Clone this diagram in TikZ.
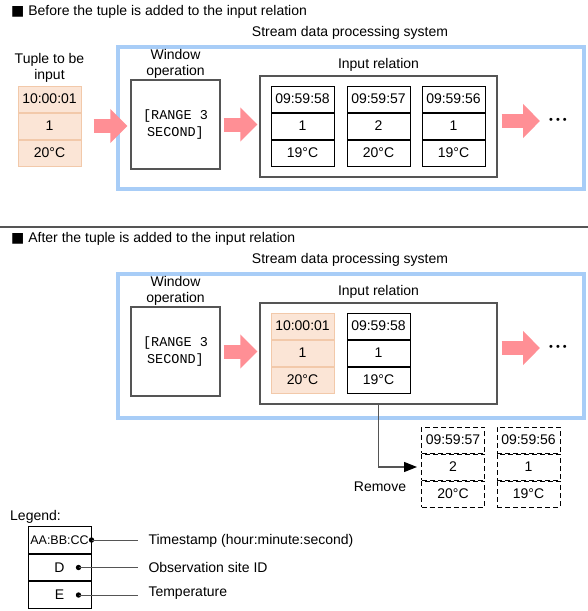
\documentclass[tikz,border=0pt]{standalone}
\usepackage{fontspec}
\setmainfont{Liberation Sans}
\setmonofont{Liberation Mono}
\newfontfamily\symfont{DejaVu Sans}
\usetikzlibrary{arrows.meta, positioning, calc}

\definecolor{tuplefill}{HTML}{FBE5D6}
\definecolor{tupleedge}{HTML}{F2C9AA}
\definecolor{arrowpink}{HTML}{FF8F95}
\definecolor{sysblue}{HTML}{A8CDF7}
\definecolor{edgegray}{HTML}{555555}

\begin{document}
\begin{tikzpicture}[
    x=1pt, y=-1pt,
    font=\fontsize{14}{16}\selectfont,
    cell/.style={rectangle, draw=black, line width=1pt, minimum width=63pt, minimum height=26pt, inner sep=0pt},
    newcell/.style={cell, fill=tuplefill, draw=tupleedge},
    gonecell/.style={cell, dash pattern=on 5pt off 3pt},
    sysbox/.style={rectangle, draw=sysblue, line width=3.5pt, minimum width=466pt, minimum height=142pt, inner sep=0pt},
    opbox/.style={rectangle, draw=edgegray, line width=1.2pt, inner sep=0pt},
    fatarrow/.style={draw=arrowpink, line width=14pt, -{Triangle[width=33pt, length=17pt]}},
    boxlbl/.style={align=center, inner sep=0pt},
    legline/.style={draw=edgegray, line width=1pt}
]
\useasboundingbox (0,0) rectangle (588,611);

% tuple: name, x, y of top cell, timestamp, site, temperature, cell style
\newcommand{\tuplecol}[7]{%
  \node[#7] (#1a) at (#2, #3) {#4};
  \node[#7, below=0pt of #1a] (#1b) {#5};
  \node[#7, below=0pt of #1b] (#1c) {#6};
}

% Panel 1: before the tuple is added
\node[anchor=west, inner sep=0pt] (head1) at (11, 12) {{\symfont ■} Before the tuple is added to the input relation};
\node[boxlbl] (syslbl1) at (350, 33) {Stream data processing system};
\node[sysbox] (sys1) at (351, 118) {};

\node[boxlbl] (inlbl) at (49.5, 68) {Tuple to be\\input};
\tuplecol{in}{49.5}{99}{10:00:01}{1}{20°C}{newcell}

\node[boxlbl] (winlbl1) at (175.5, 64) {Window\\operation};
\node[opbox, minimum width=89pt, minimum height=89pt, align=center, font=\ttfamily\fontsize{13.5}{17}\selectfont] (win1) at (175.5, 124.5) {[RANGE 3\\SECOND]};

\node[boxlbl] (rellbl1) at (378.5, 65) {Input relation};
\node[opbox, minimum width=237pt, minimum height=101pt] (rel1) at (378.5, 126.5) {};
\tuplecol{ta}{302.5}{99}{09:59:58}{1}{19°C}{cell}
\tuplecol{tb}{378.5}{99}{09:59:57}{2}{20°C}{cell}
\tuplecol{tc}{453.5}{99}{09:59:56}{1}{19°C}{cell}

\node[inner sep=0pt] (dots1) at (558, 121) {\fontsize{11}{11}\selectfont\textbullet\hspace{3pt}\textbullet\hspace{3pt}\textbullet};

\draw[fatarrow, shorten <=12pt, shorten >=3pt] (inb.east) -- (inb.east -| win1.west);
\draw[fatarrow, shorten <=3pt, shorten >=2pt] (win1.east) -- (win1.east -| rel1.west);
\draw[fatarrow, shorten <=4pt, shorten >=9pt] (rel1.east |- dots1) -- (dots1.west);

% separator
\draw[edgegray, line width=1.2pt] (0, 227) -- (588, 227);

% Panel 2: after the tuple is added
\begin{scope}[yshift=-227pt]
\node[anchor=west, inner sep=0pt] (head2) at (11, 12) {{\symfont ■} After the tuple is added to the input relation};
\node[boxlbl] (syslbl2) at (350, 33) {Stream data processing system};
\node[sysbox, minimum height=144pt] (sys2) at (351, 119) {};

\node[boxlbl] (winlbl2) at (175.5, 64) {Window\\operation};
\node[opbox, minimum width=89pt, minimum height=89pt, align=center, font=\ttfamily\fontsize{13.5}{17}\selectfont] (win2) at (175.5, 124.5) {[RANGE 3\\SECOND]};

\node[boxlbl] (rellbl2) at (378.5, 65) {Input relation};
\node[opbox, minimum width=237pt, minimum height=101pt] (rel2) at (378.5, 126.5) {};
\tuplecol{na}{302.5}{99}{10:00:01}{1}{20°C}{newcell}
\tuplecol{ua}{378.5}{99}{09:59:58}{1}{19°C}{cell}

\node[inner sep=0pt] (dots2) at (558, 121) {\fontsize{11}{11}\selectfont\textbullet\hspace{3pt}\textbullet\hspace{3pt}\textbullet};

\draw[fatarrow, shorten <=3pt, shorten >=2pt] (win2.east) -- (win2.east -| rel2.west);
\draw[fatarrow, shorten <=4pt, shorten >=9pt] (rel2.east |- dots2) -- (dots2.west);

% removed tuples
\tuplecol{ga}{453}{213}{09:59:57}{2}{20°C}{gonecell}
\tuplecol{gb}{528.5}{213}{09:59:56}{1}{19°C}{gonecell}
\draw[edgegray, line width=1.2pt, -{Triangle[length=13pt, width=10pt, color=black]}, shorten >=4pt] (rel2.south) |- (gab.west);
\node (removelbl) at (380, 260) {Remove};
\end{scope}

% Legend
\node[anchor=west, inner sep=0pt] (leglbl) at (10, 517) {Legend:};
\node[cell, minimum height=26.5pt, font=\fontsize{12.5}{14}\selectfont] (lega) at (59.5, 540) {AA:BB:CC};
\node[cell, minimum height=26.5pt, below=0pt of lega] (legb) {D\hspace{10pt}};
\node[cell, minimum height=26.5pt, below=0pt of legb] (legc) {E\hspace{10pt}};
\fill (lega.east) circle (2.7pt) coordinate (dota);
\fill ($(legb.east)+(-13,0)$) circle (2.7pt) coordinate (dotb);
\fill ($(legc.east)+(-13,0)$) circle (2.7pt) coordinate (dotc);
\node[anchor=west] (legta) at (145, 541) {Timestamp (hour:minute:second)};
\node[anchor=west] (legtb) at (145, 567) {Observation site ID};
\node[anchor=west] (legtc) at (145, 593) {Temperature};
\draw[legline, shorten >=7pt] (dota) -- (dota -| legta.west);
\draw[legline, shorten >=7pt] (dotb) -- (dotb -| legtb.west);
\draw[legline, shorten >=7pt] (dotc) -- (dotc -| legtc.west);

\end{tikzpicture}
\end{document}
